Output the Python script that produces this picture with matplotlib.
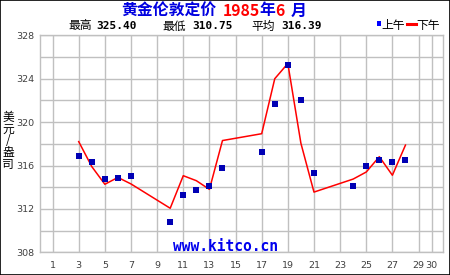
import matplotlib
matplotlib.use("Agg")
import matplotlib.pyplot as plt
from matplotlib.patches import Rectangle
from matplotlib.lines import Line2D

plt.rcParams['font.family'] = ['Noto Sans CJK SC', 'DejaVu Sans']

# ---- data ----
am_days = [3, 4, 5, 6, 7, 10, 11, 12, 13, 14, 17, 18, 19, 20, 21, 24, 25, 26, 27, 28]
am_vals = [316.85, 316.30, 314.73, 314.88, 315.00, 310.75, 313.25, 313.71, 314.08, 315.74,
           317.22, 321.64, 325.25, 322.00, 315.28, 314.08, 315.93, 316.48, 316.30, 316.48]
pm_days = [3, 4, 5, 6, 7, 10, 11, 12, 13, 14, 17, 18, 19, 20, 21, 24, 25, 26, 27, 28]
pm_vals = [318.20, 315.90, 314.27, 314.90, 314.30, 312.06, 315.06, 314.60, 313.80, 318.30,
           318.93, 324.00, 325.40, 318.05, 313.55, 314.75, 315.40, 316.81, 315.10, 317.88]
x_ticks = [1, 3, 5, 7, 9, 11, 13, 15, 17, 19, 21, 23, 25, 27, 29, 30]
y_major = [308, 312, 316, 320, 324, 328]
y_minor = [310, 314, 318, 322, 326]
stats_labels = ["最高", "最低", "平均"]
stats_values = ["325.40", "310.75", "316.39"]
title_parts = ["黄金伦敦定价", "1985", "年", "6", "月"]
title_colors = ["#0000e0", "#ff0000", "#0000e0", "#ff0000", "#0000e0"]
title_gaps = [0, 4.5, 0, 0, 4.5]   # gap before each piece (points)
legend_labels = ["上午", "下午"]

W, H = 450, 275
fig = plt.figure(figsize=(4.5, 2.75), dpi=100)
fig.patch.set_facecolor("white")

left, right, top, bottom = 39.5, 443, 35.3, 252.3
ax = fig.add_axes([left / W, 1 - bottom / H, (right - left) / W, (bottom - top) / H])
ax.set_xlim(0, (right - left) / 13.07)
ax.set_ylim(308, 328)

grid_c = "#c0c0c0"
ax.set_xticks(x_ticks)
ax.set_xticklabels([str(t) for t in x_ticks])
ax.set_yticks(y_major)
ax.set_yticks(y_minor, minor=True)
ax.set_yticklabels([str(t) for t in y_major])
ax.grid(True, which="both", color=grid_c, linewidth=1)
ax.set_axisbelow(True)
ax.tick_params(axis="both", which="both", length=0, labelsize=6.8, labelcolor="#404040",
               labelfontfamily="DejaVu Sans")
ax.tick_params(axis="x", pad=6)
ax.tick_params(axis="y", pad=4)
for s in ax.spines.values():
    s.set_color(grid_c)
    s.set_linewidth(1)

ax.plot(pm_days, pm_vals, color="#ff0000", linewidth=1.1, zorder=3)
ax.plot(am_days, am_vals, linestyle="none", marker="s", markersize=4.3,
        color="#0000b4", markeredgewidth=0, zorder=4)

# watermark
fig.text(225.5 / W, 1 - 246.5 / H, "www.kitco.cn", color="#0000ee", fontsize=10.5,
         fontweight="bold", family="DejaVu Sans Mono", ha="center", va="center")

# title (chained pieces)
prev = fig.text(121 / W, 1 - 15.5 / H, title_parts[0], color=title_colors[0],
                fontsize=11.4, fontweight="bold", ha="left", va="baseline")
for txt, col, gap in zip(title_parts[1:], title_colors[1:], title_gaps[1:]):
    prev = ax.annotate(txt, xy=(1, 0), xycoords=prev, xytext=(gap, 0),
                       textcoords="offset points", color=col, fontsize=11.4,
                       fontweight="bold", ha="left", va="bottom", annotation_clip=False)

# stats line
stat_label_x = [68.3, 162.3, 251.7]
stat_value_x = [96.7, 192.3, 281.0]
yc = 1 - 26 / H
for lab, val, lx, vx in zip(stats_labels, stats_values, stat_label_x, stat_value_x):
    fig.text(lx / W, yc, lab, fontsize=8.5, color="black", ha="left", va="center")
    fig.text(vx / W, yc, val, fontsize=8, color="black", fontweight="bold",
             family="DejaVu Sans Mono", ha="left", va="center")

# legend
fig.patches.append(Rectangle((376.5 / W, 1 - 26 / H), 4.5 / W, 4.5 / H,
                             transform=fig.transFigure, facecolor="#0000ff",
                             edgecolor="none"))
fig.text(381.5 / W, yc, legend_labels[0], fontsize=8.5, color="black", ha="left", va="center")
fig.lines.append(Line2D([406.5 / W, 415.5 / W], [1 - 24.3 / H, 1 - 24.3 / H],
                        transform=fig.transFigure, color="#ff0000", linewidth=2.2))
fig.text(416.5 / W, yc, legend_labels[1], fontsize=8.5, color="black", ha="left", va="center")

# vertical y label (stacked characters)
ylab_chars = ["美", "元", "/", "盎", "司"]
for i, ch in enumerate(ylab_chars):
    fig.text(8 / W, 1 - (117.5 + i * 11.7) / H, ch, fontsize=8.5, color="black",
             ha="center", va="center")

# figure border
fig.patches.append(Rectangle((0, 0), 1, 1, transform=fig.transFigure, facecolor="none",
                             edgecolor="#000000", linewidth=1.2))

fig.savefig("out.png", dpi=100)
